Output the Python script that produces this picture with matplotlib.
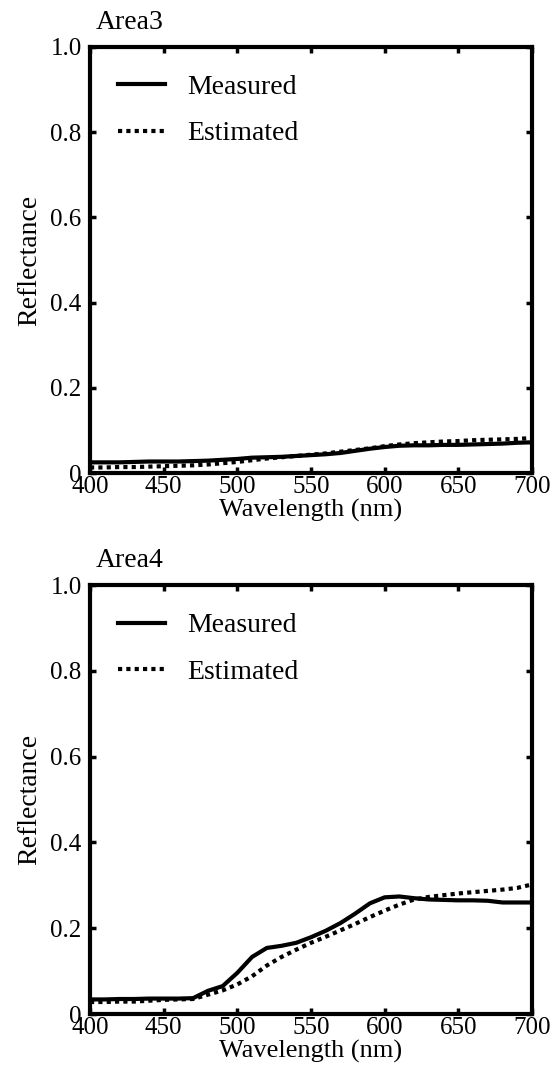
import matplotlib
matplotlib.use('Agg')
import matplotlib.pyplot as plt

plt.rcParams['font.family'] = ['Liberation Serif', 'DejaVu Serif']
plt.rcParams['font.size'] = 19

wl = [400, 410, 420, 430, 440, 450, 460, 470, 480, 490, 500, 510, 520, 530, 540, 550,
      560, 570, 580, 590, 600, 610, 620, 630, 640, 650, 660, 670, 680, 690, 700]

area3_measured = [0.025, 0.025, 0.025, 0.026, 0.027, 0.027, 0.027, 0.028, 0.029, 0.031, 0.033,
                  0.036, 0.037, 0.038, 0.040, 0.042, 0.044, 0.047, 0.052, 0.057, 0.061,
                  0.064, 0.065, 0.065, 0.066, 0.066, 0.067, 0.068, 0.069, 0.071, 0.072]
area3_estimated = [0.013, 0.013, 0.014, 0.014, 0.015, 0.016, 0.017, 0.018, 0.020, 0.023, 0.026,
                   0.030, 0.034, 0.037, 0.040, 0.043, 0.046, 0.050, 0.054, 0.058, 0.063,
                   0.067, 0.070, 0.072, 0.074, 0.075, 0.077, 0.078, 0.079, 0.080, 0.082]

area4_measured = [0.034, 0.034, 0.035, 0.035, 0.036, 0.036, 0.036, 0.037, 0.054, 0.065, 0.096,
                  0.133, 0.154, 0.159, 0.166, 0.179, 0.194, 0.212, 0.234, 0.258, 0.272,
                  0.274, 0.270, 0.267, 0.266, 0.265, 0.265, 0.264, 0.260, 0.260, 0.260]
area4_estimated = [0.028, 0.028, 0.029, 0.029, 0.031, 0.033, 0.034, 0.035, 0.045, 0.055, 0.069,
                   0.088, 0.113, 0.133, 0.150, 0.166, 0.180, 0.195, 0.210, 0.226, 0.241,
                   0.255, 0.267, 0.273, 0.277, 0.281, 0.284, 0.287, 0.290, 0.294, 0.302]

xticks = [400, 450, 500, 550, 600, 650, 700]
yticks = [0, 0.2, 0.4, 0.6, 0.8, 1.0]
ytick_labels = ['0', '0.2', '0.4', '0.6', '0.8', '1.0']

fig = plt.figure(figsize=(5.58, 10.76), dpi=100)
ax1 = fig.add_axes([0.1613, 0.5604, 0.792, 0.396])
ax2 = fig.add_axes([0.1613, 0.0576, 0.792, 0.3987])


def draw(ax, meas, est, title):
    ax.plot(wl, meas, color='black', lw=3, solid_joinstyle='round', label='Measured')
    ax.plot(wl, est, color='black', lw=3, linestyle=(0, (1, 1)), dash_capstyle='butt',
            label='Estimated')
    ax.set_xlim(400, 700)
    ax.set_ylim(0, 1.0)
    ax.set_xticks(xticks)
    ax.set_yticks(yticks)
    ax.set_yticklabels(ytick_labels)
    ax.tick_params(direction='in', length=4, width=2.5, top=True, right=True, labelsize=18)
    ax.tick_params(axis='x', pad=2)
    ax.tick_params(axis='y', pad=6)
    for s in ax.spines.values():
        s.set_linewidth(3)
    ax.set_xlabel('Wavelength (nm)', fontsize=19, labelpad=1)
    ax.set_ylabel('Reflectance', fontsize=20, labelpad=6)
    t = ax.set_title(title, loc='left', fontsize=20, pad=13)
    t.set_x(0.012)
    ax.legend(loc='upper left', frameon=False, fontsize=20, handlelength=1.7,
              handletextpad=0.8, borderaxespad=0.6, labelspacing=0.75)


draw(ax1, area3_measured, area3_estimated, 'Area3')
draw(ax2, area4_measured, area4_estimated, 'Area4')

fig.savefig('out.png', dpi=100)
